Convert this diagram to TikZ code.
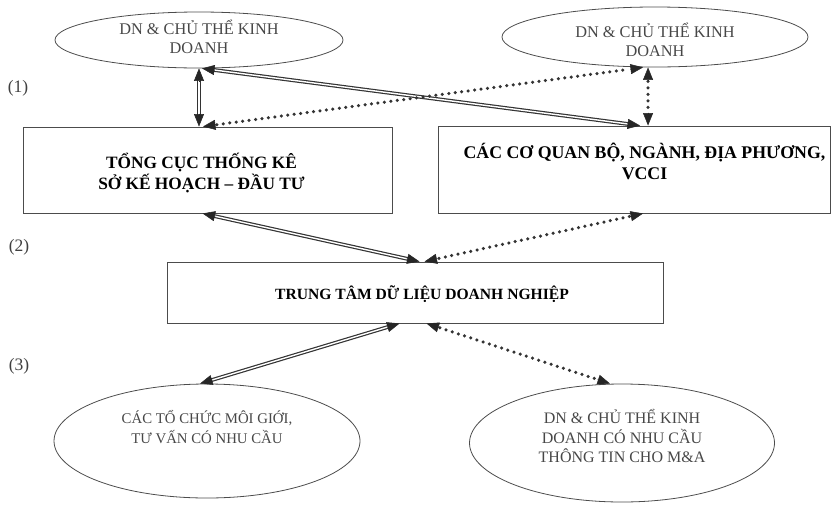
\documentclass[tikz,border=0pt]{standalone}
\usepackage{fontspec}
\setmainfont{Liberation Serif}
\usetikzlibrary{shapes.geometric,arrows.meta,calc}
\newcommand\tipat[2]{\draw[tipst] ($(#1)!13pt!(#2)$) -- (#1);}
\newcommand\dblcon[2]{\draw[dbl] (#1) -- (#2); \tipat{#1}{#2} \tipat{#2}{#1}}
\newcommand\dotcon[2]{\draw[dotl] (#1) -- (#2); \tipat{#1}{#2} \tipat{#2}{#1}}
\begin{document}
\begin{tikzpicture}[x=1pt,y=-1pt,
  ell/.style={ellipse,draw=black!70,line width=0.8pt,inner sep=0pt},
  etext/.style={align=center,text=black!72,inner sep=0pt,font=\fontsize{16.3}{18.5}\selectfont},
  box/.style={rectangle,draw=black!70,line width=0.9pt,inner sep=0pt},
  btext/.style={align=center,inner sep=0pt,font=\bfseries\fontsize{17.3}{21}\selectfont},
  tipst/.style={draw=black!85,fill=black!85,line width=0.5pt,-{Triangle[length=12.5pt,width=10pt]}},
  dbl/.style={draw=black!80,double=white,double distance=1.4pt,line width=1.2pt,
    shorten <=10pt,shorten >=10pt},
  dotl/.style={draw=black!80,line width=3.5pt,dash pattern=on 0pt off 6.5pt,line cap=round,
    shorten <=14pt,shorten >=14pt},
  lbl/.style={inner sep=0pt,text=black!75,font=\fontsize{17.5}{17.5}\selectfont}
]
\useasboundingbox (0,0) rectangle (833,504);

% shapes
\node[ell,minimum width=288pt,minimum height=56pt] (e1) at (199,40) {};
\node[ell,minimum width=306pt,minimum height=60pt] (e2) at (655,37) {};
\node[box,minimum width=369pt,minimum height=86pt] (b1) at (207.5,170) {};
\node[box,minimum width=392pt,minimum height=87pt] (b2) at (634.5,169.5) {};
\node[box,minimum width=496pt,minimum height=61pt] (b3) at (415,292.5) {};
\node[ell,minimum width=306pt,minimum height=114pt] (e3) at (207,441) {};
\node[ell,minimum width=305pt,minimum height=118pt] (e4) at (622,443) {};

% texts
\node[etext] (t1) at ($(e1.center)+(0,-3)$) {DN \& CHỦ THỂ KINH\\DOANH};
\node[etext] (t2) at ($(e2.center)+(0,3)$) {DN \& CHỦ THỂ KINH\\DOANH};
\node[btext] (t3) at ($(b1.center)+(-6,3)$) {TỔNG CỤC THỐNG KÊ\\SỞ KẾ HOẠCH – ĐẦU TƯ};
\node[btext,font=\bfseries\fontsize{17.8}{21}\selectfont] (t4) at ($(b2.center)+(10,-8)$) {CÁC CƠ QUAN BỘ, NGÀNH, ĐỊA PHƯƠNG,\\VCCI};
\node[btext,font=\bfseries\fontsize{15.6}{19}\selectfont] (t5) at ($(b3.center)+(7,2)$) {TRUNG TÂM DỮ LIỆU DOANH NGHIỆP};
\node[etext,font=\fontsize{14.8}{19.5}\selectfont] (t6) at ($(e3.center)+(0,-14)$) {CÁC TỔ CHỨC MÔI GIỚI,\\TƯ VẤN CÓ NHU CẦU};
\node[etext,font=\fontsize{16}{19.5}\selectfont] (t7) at ($(e4.center)+(0,-7)$) {DN \& CHỦ THỂ KINH\\DOANH CÓ NHU CẦU\\THÔNG TIN CHO M\&A};

% level labels
\node[lbl] (l1) at (18,88) {(1)};
\node[lbl] (l2) at (19,247) {(2)};
\node[lbl] (l3) at (19,366) {(3)};

% anchor points
\coordinate (p1) at (e1.south);
\coordinate (p1b) at ($(e1.south)+(3,0)$);
\coordinate (q1) at (e1.south |- b1.north);
\coordinate (q1b) at ($(q1)+(4,0)$);
\coordinate (q2) at ($(b2.north west)+(202,0)$);
\coordinate (q2v) at ($(b2.north west)+(210,0)$);
\coordinate (p2) at ($(e2.south)+(-12,0)$);
\coordinate (p2v) at (q2v |- e2.south);
\coordinate (r1) at ($(b1.south west)+(180,0)$);
\coordinate (r2) at ($(b2.south west)+(205,0)$);
\coordinate (s1) at ($(b3.north west)+(253,0)$);
\coordinate (s2) at ($(b3.north west)+(258,0)$);
\coordinate (u1) at ($(b3.south west)+(233,0)$);
\coordinate (u2) at ($(b3.south west)+(260,0)$);
\coordinate (v1) at ($(e3.north)+(-7,0)$);
\coordinate (v2) at ($(e4.north)+(-12,0)$);

% connectors
\dblcon{p1}{q1}
\dblcon{p1b}{q2}
\dotcon{q1b}{p2}
\dotcon{p2v}{q2v}
\dblcon{r1}{s1}
\dotcon{r2}{s2}
\dblcon{u1}{v1}
\dotcon{u2}{v2}
\end{tikzpicture}
\end{document}
